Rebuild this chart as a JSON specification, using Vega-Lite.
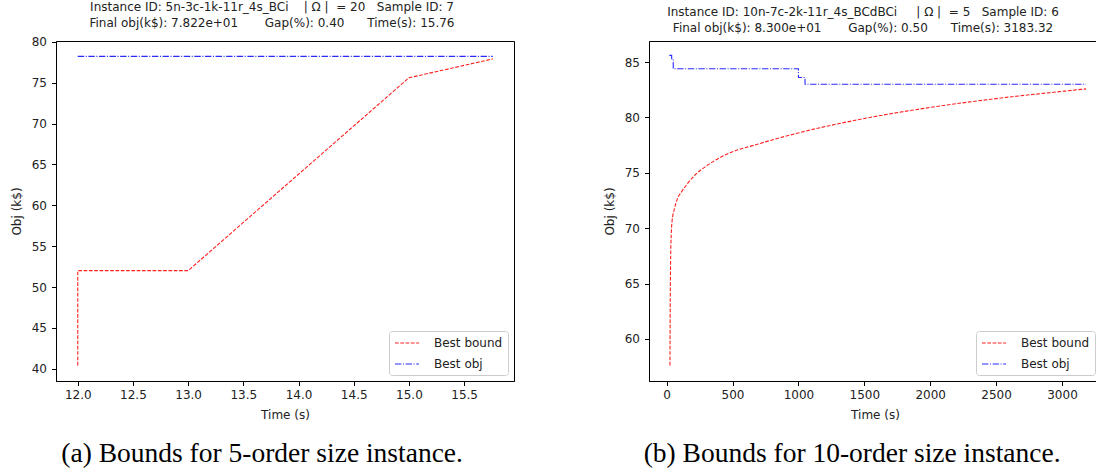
{
  "$schema": "https://vega.github.io/schema/vega-lite/v6.json",
  "padding": {"left": 9, "top": 0, "right": 0, "bottom": 0},
  "background": "white",
  "datasets": {
    "a": [
      {"t": 12.0, "obj": 40.4, "series": "Best bound"},
      {"t": 12.0, "obj": 52.0, "series": "Best bound"},
      {"t": 13.0, "obj": 52.0, "series": "Best bound"},
      {"t": 15.0, "obj": 75.6, "series": "Best bound"},
      {"t": 15.76, "obj": 77.91, "series": "Best bound"},
      {"t": 12.0, "obj": 78.22, "series": "Best obj"},
      {"t": 15.76, "obj": 78.22, "series": "Best obj"}
    ],
    "b": [
      {"t": 25, "obj": 57.6, "series": "Best bound"},
      {"t": 27, "obj": 63.0, "series": "Best bound"},
      {"t": 30, "obj": 67.0, "series": "Best bound"},
      {"t": 35, "obj": 69.5, "series": "Best bound"},
      {"t": 40, "obj": 70.5, "series": "Best bound"},
      {"t": 60, "obj": 71.8, "series": "Best bound"},
      {"t": 80, "obj": 72.6, "series": "Best bound"},
      {"t": 114, "obj": 73.3, "series": "Best bound"},
      {"t": 150, "obj": 73.9, "series": "Best bound"},
      {"t": 215, "obj": 74.8, "series": "Best bound"},
      {"t": 300, "obj": 75.6, "series": "Best bound"},
      {"t": 442, "obj": 76.6, "series": "Best bound"},
      {"t": 695, "obj": 77.6, "series": "Best bound"},
      {"t": 1000, "obj": 78.6, "series": "Best bound"},
      {"t": 1500, "obj": 79.9, "series": "Best bound"},
      {"t": 2000, "obj": 80.9, "series": "Best bound"},
      {"t": 2500, "obj": 81.7, "series": "Best bound"},
      {"t": 3000, "obj": 82.35, "series": "Best bound"},
      {"t": 3183, "obj": 82.58, "series": "Best bound"},
      {"t": 20, "obj": 85.6, "series": "Best obj"},
      {"t": 38, "obj": 85.3, "series": "Best obj"},
      {"t": 50, "obj": 84.4, "series": "Best obj"},
      {"t": 1000, "obj": 83.6, "series": "Best obj"},
      {"t": 1050, "obj": 83.0, "series": "Best obj"},
      {"t": 3183, "obj": 83.0, "series": "Best obj"}
    ]
  },
  "config": {
    "font": "DejaVu Sans",
    "view": {"stroke": "black", "strokeWidth": 1},
    "axis": {
      "grid": false,
      "labelFont": "DejaVu Sans",
      "labelFontSize": 12,
      "labelColor": "#222222",
      "titleFont": "DejaVu Sans",
      "titleFontSize": 12,
      "titleFontWeight": "normal",
      "titleColor": "#222222",
      "domainColor": "black",
      "tickColor": "black",
      "tickSize": 4.5,
      "labelPadding": 4
    },
    "axisX": {"titlePadding": 9},
    "axisY": {"titlePadding": 8, "labelPadding": 5},
    "title": {
      "font": "DejaVu Sans",
      "fontSize": 12,
      "fontWeight": "normal",
      "color": "#222222",
      "lineHeight": 16
    },
    "legend": {
      "orient": "bottom-right",
      "offset": 6,
      "title": null,
      "fillColor": "white",
      "strokeColor": "#cccccc",
      "cornerRadius": 3,
      "padding": 5,
      "symbolType": "M-2,0H2",
      "symbolSize": 144,
      "symbolOffset": 6,
      "symbolStrokeWidth": 1.3,
      "labelFont": "DejaVu Sans",
      "labelFontSize": 12,
      "labelColor": "#222222",
      "labelOffset": 20,
      "rowPadding": 8
    },
    "line": {"strokeWidth": 1.1}
  },
  "resolve": {
    "scale": {"color": "independent", "strokeDash": "independent"},
    "legend": {"color": "independent", "strokeDash": "independent"}
  },
  "spacing": 87,
  "hconcat": [
    {
      "title": {
        "text": "(a) Bounds for 5-order size instance.",
        "orient": "bottom",
        "anchor": "middle",
        "frame": "bounds",
        "font": "Liberation Serif",
        "fontSize": 27.5,
        "color": "black",
        "offset": 19
      },
      "resolve": {
        "scale": {"color": "independent", "strokeDash": "independent"},
        "legend": {"color": "independent", "strokeDash": "independent"}
      },
      "vconcat": [
        {
          "width": 458,
          "height": 340,
          "title": {
            "text": [
              "Instance ID: 5n-3c-1k-11r_4s_BCi\u00a0\u00a0\u00a0 | Ω |\u00a0 = 20\u00a0\u00a0 Sample ID: 7",
              "Final obj(k$): 7.822e+01\u00a0\u00a0\u00a0\u00a0\u00a0\u00a0 Gap(%): 0.40\u00a0\u00a0\u00a0\u00a0\u00a0 Time(s): 15.76"
            ],
            "anchor": "middle",
            "frame": "group",
            "dx": -13,
            "offset": 6
          },
          "data": {"name": "a"},
          "encoding": {
            "x": {
              "field": "t", "type": "quantitative", "title": "Time (s)",
              "scale": {"domain": [11.803, 15.952], "nice": false, "zero": false},
              "axis": {"values": [12, 12.5, 13, 13.5, 14, 14.5, 15, 15.5], "format": ".1f"}
            },
            "y": {
              "field": "obj", "type": "quantitative", "title": "Obj (k$)",
              "scale": {"domain": [38.5, 80.1], "nice": false, "zero": false},
              "axis": {"values": [40, 45, 50, 55, 60, 65, 70, 75, 80]}
            },
            "color": {
              "field": "series", "type": "nominal",
              "scale": {"domain": ["Best bound", "Best obj"], "range": ["#ff2020", "#2a2aff"]}
            },
            "strokeDash": {
              "field": "series", "type": "nominal",
              "scale": {"domain": ["Best bound", "Best obj"], "range": [[3.7, 1.6], [6.4, 1.6, 1, 1.6]]}
            }
          },
          "mark": {"type": "line"}
        }
      ]
    },
    {
      "title": {
        "text": "(b) Bounds for 10-order size instance.",
        "orient": "bottom",
        "anchor": "middle",
        "frame": "bounds",
        "font": "Liberation Serif",
        "fontSize": 27.5,
        "color": "black",
        "offset": 19
      },
      "resolve": {
        "scale": {"color": "independent", "strokeDash": "independent"},
        "legend": {"color": "independent", "strokeDash": "independent"}
      },
      "vconcat": [
        {
          "width": 452,
          "height": 340,
          "title": {
            "text": [
              "Instance ID: 10n-7c-2k-11r_4s_BCdBCi\u00a0\u00a0\u00a0\u00a0 | Ω |\u00a0 = 5\u00a0\u00a0 Sample ID: 6",
              "Final obj(k$): 8.300e+01\u00a0\u00a0\u00a0\u00a0\u00a0\u00a0 Gap(%): 0.50\u00a0\u00a0\u00a0\u00a0\u00a0 Time(s): 3183.32"
            ],
            "anchor": "middle",
            "frame": "group",
            "dx": -12,
            "offset": 6
          },
          "data": {"name": "b"},
          "encoding": {
            "x": {
              "field": "t", "type": "quantitative", "title": "Time (s)",
              "scale": {"domain": [-134, 3296], "nice": false, "zero": false},
              "axis": {"values": [0, 500, 1000, 1500, 2000, 2500, 3000], "format": "d"}
            },
            "y": {
              "field": "obj", "type": "quantitative", "title": "Obj (k$)",
              "scale": {"domain": [56.2, 86.9], "nice": false, "zero": false},
              "axis": {"values": [60, 65, 70, 75, 80, 85]}
            },
            "color": {
              "field": "series", "type": "nominal",
              "scale": {"domain": ["Best bound", "Best obj"], "range": ["#ff2020", "#2a2aff"]}
            },
            "strokeDash": {
              "field": "series", "type": "nominal",
              "scale": {"domain": ["Best bound", "Best obj"], "range": [[3.7, 1.6], [6.4, 1.6, 1, 1.6]]}
            }
          },
          "layer": [
            {
              "transform": [{"filter": "datum.series == 'Best bound'"}],
              "mark": {"type": "line", "interpolate": "monotone"}
            },
            {
              "transform": [{"filter": "datum.series == 'Best obj'"}],
              "mark": {"type": "line", "interpolate": "step-after"}
            }
          ]
        }
      ]
    }
  ]
}
